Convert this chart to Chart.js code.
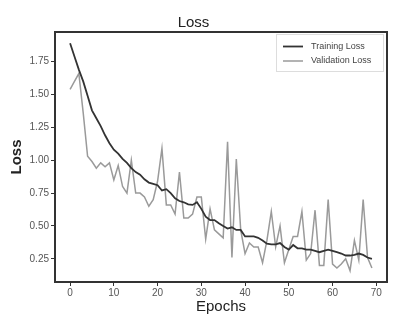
<!DOCTYPE html>
<html lang="en">
<head>
  <meta charset="UTF-8">
  <title>Loss</title>
  <script src="https://cdn.jsdelivr.net/npm/chart.js"></script>
  <style>body { margin: 0; background: #fff; }</style>
</head>
<body>
  <canvas id="lossChart" width="419" height="325"></canvas>
  <script>
    const epochs = [0, 1, 2, 3, 4, 5, 6, 7, 8, 9, 10, 11, 12, 13, 14, 15, 16, 17, 18, 19,
      20, 21, 22, 23, 24, 25, 26, 27, 28, 29, 30, 31, 32, 33, 34, 35, 36, 37, 38, 39,
      40, 41, 42, 43, 44, 45, 46, 47, 48, 49, 50, 51, 52, 53, 54, 55, 56, 57, 58, 59,
      60, 61, 62, 63, 64, 65, 66, 67, 68, 69];
    const trainingLoss = [1.89, 1.79, 1.69, 1.60, 1.49, 1.38, 1.32, 1.26, 1.19, 1.13,
      1.08, 1.05, 1.01, 0.98, 0.94, 0.91, 0.89, 0.855, 0.83, 0.82,
      0.81, 0.77, 0.78, 0.75, 0.71, 0.69, 0.68, 0.665, 0.66, 0.68,
      0.63, 0.57, 0.545, 0.545, 0.52, 0.50, 0.48, 0.49, 0.47, 0.47,
      0.42, 0.42, 0.42, 0.41, 0.39, 0.365, 0.36, 0.36, 0.37, 0.34,
      0.32, 0.355, 0.33, 0.33, 0.32, 0.32, 0.31, 0.30, 0.31, 0.32,
      0.31, 0.30, 0.29, 0.275, 0.275, 0.28, 0.29, 0.28, 0.26, 0.25];
    const validationLoss = [1.54, 1.60, 1.66, 1.36, 1.03, 0.99, 0.94, 0.98, 0.95, 0.98,
      0.85, 0.96, 0.80, 0.75, 1.00, 0.75, 0.75, 0.72, 0.65, 0.70,
      0.84, 1.09, 0.66, 0.66, 0.59, 0.91, 0.56, 0.56, 0.59, 0.72,
      0.72, 0.40, 0.63, 0.47, 0.44, 0.41, 1.14, 0.26, 1.01, 0.47,
      0.29, 0.37, 0.34, 0.34, 0.22, 0.39, 0.61, 0.34, 0.50, 0.22,
      0.32, 0.42, 0.42, 0.61, 0.24, 0.29, 0.62, 0.20, 0.20, 0.70,
      0.21, 0.18, 0.21, 0.25, 0.16, 0.39, 0.24, 0.70, 0.26, 0.18];
    const xTicks = [0, 10, 20, 30, 40, 50, 60, 70];
    const yTicks = [0.25, 0.50, 0.75, 1.00, 1.25, 1.50, 1.75];

    const font = '"Liberation Sans", Arial, sans-serif';

    // box round the plot and the legend in its top right corner
    const framePlugin = {
      id: 'frame',
      afterDraw(chart) {
        const { ctx, chartArea: a } = chart;
        ctx.save();
        ctx.strokeStyle = '#333';
        ctx.lineWidth = 2;
        ctx.strokeRect(a.left, a.top, a.right - a.left, a.bottom - a.top);

        const x0 = a.right - 111, y0 = a.top + 2;
        ctx.fillStyle = 'rgba(255,255,255,0.85)';
        ctx.fillRect(x0, y0, 107, 37);
        ctx.strokeStyle = '#ddd';
        ctx.lineWidth = 1;
        ctx.strokeRect(x0 + 0.5, y0 + 0.5, 107, 37);
        ctx.font = '9px ' + font;
        ctx.textBaseline = 'middle';
        chart.data.datasets.forEach((ds, i) => {
          const y = y0 + 12.5 + i * 14.5;
          ctx.strokeStyle = ds.borderColor;
          ctx.lineWidth = ds.borderWidth;
          ctx.beginPath();
          ctx.moveTo(x0 + 7, y);
          ctx.lineTo(x0 + 27, y);
          ctx.stroke();
          ctx.fillStyle = '#444';
          ctx.fillText(ds.label, x0 + 35, y);
        });
        ctx.restore();
      }
    };

    const ctx = document.getElementById('lossChart').getContext('2d');
    const lossChart = new Chart(ctx, {
      type: 'line',
      data: {
        datasets: [{
          label: 'Training Loss',
          data: epochs.map((e, i) => ({ x: e, y: trainingLoss[i] })),
          borderColor: '#333',
          borderWidth: 1.8,
          pointRadius: 0,
          tension: 0
        }, {
          label: 'Validation Loss',
          data: epochs.map((e, i) => ({ x: e, y: validationLoss[i] })),
          borderColor: '#9a9a9a',
          borderWidth: 1.5,
          pointRadius: 0,
          tension: 0
        }]
      },
      options: {
        responsive: false,
        animation: false,
        layout: { padding: { top: 0, right: 32, bottom: 0, left: 0 } },
        plugins: {
          legend: { display: false },
          tooltip: { enabled: false },
          title: {
            display: true,
            text: 'Loss',
            color: '#222',
            font: { family: font, size: 15, weight: 'normal', lineHeight: 1.2 },
            padding: { top: 14, bottom: 0 }
          }
        },
        scales: {
          x: {
            type: 'linear',
            min: -3.45,
            max: 72.45,
            afterBuildTicks: s => { s.ticks = xTicks.map(v => ({ value: v })); },
            afterFit: s => { s.height = 43; },
            grid: { drawOnChartArea: false, drawTicks: true, tickLength: 4, tickColor: '#333' },
            border: { display: false },
            ticks: { color: '#555', padding: 1, maxRotation: 0, font: { family: font, size: 10 } },
            title: {
              display: true,
              text: 'Epochs',
              color: '#222',
              font: { family: font, size: 15, lineHeight: 1.2 },
              padding: { top: 0, bottom: 9 }
            }
          },
          y: {
            min: 0.0735,
            max: 1.976,
            afterBuildTicks: s => { s.ticks = yTicks.map(v => ({ value: v })); },
            afterFit: s => { s.width = 55; },
            grid: { drawOnChartArea: false, drawTicks: true, tickLength: 4, tickColor: '#333' },
            border: { display: false },
            ticks: {
              color: '#555',
              padding: 2,
              font: { family: font, size: 10 },
              callback: v => v.toFixed(2)
            },
            title: {
              display: true,
              text: 'Loss',
              color: '#222',
              font: { family: font, size: 15, weight: 'bold', lineHeight: 1.2 },
              padding: { top: 8, bottom: 0 }
            }
          }
        }
      },
      plugins: [framePlugin]
    });
  </script>
</body>
</html>
